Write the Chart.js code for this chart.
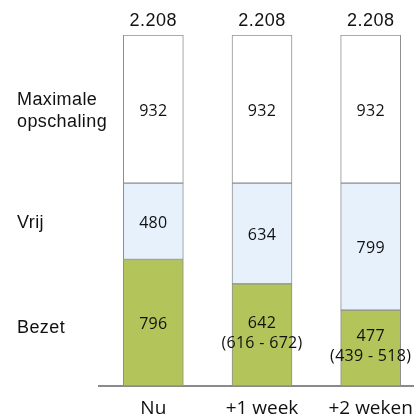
<!DOCTYPE html>
<html>
<head>
<meta charset="utf-8">
<script src="https://cdn.jsdelivr.net/npm/chart.js@4"></script>
<style>
  body { margin: 0; background: #fff; overflow: hidden; }
  #wrap { width: 414px; height: 419px; overflow: hidden; }
</style>
</head>
<body>
<div id="wrap"><canvas id="chart" width="425" height="419"></canvas></div>
<script>
// categories and values (bottom to top of the stack)
const categories = ['Nu', '+1 week', '+2 weken'];
const bezet = [796, 642, 477];
const vrij = [480, 634, 799];
const opschaling = [932, 932, 932];
// range for the predicted occupied beds
const bezetLow = [null, 616, 439];
const bezetHigh = [null, 672, 518];
const seriesLabels = ['Bezet', 'Vrij', 'Maximale\nopschaling'];

const totals = categories.map((c, i) => bezet[i] + vrij[i] + opschaling[i]);

function fmt(n) {
    // dutch thousands separator
    return String(n).replace(/\B(?=(\d{3})+(?!\d))/g, '.');
}

const labelPlugin = {
    id: 'labels',
    afterDatasetsDraw(chart) {
        const ctx = chart.ctx;
        ctx.save();
        ctx.fillStyle = '#111';
        ctx.textBaseline = 'middle';
        chart.data.datasets.forEach((ds, d) => {
            const meta = chart.getDatasetMeta(d);
            meta.data.forEach((bar, i) => {
                const mid = (bar.y + bar.base) / 2;
                ctx.font = '16px "Open Sans"';
                ctx.textAlign = 'center';
                ctx.letterSpacing = '0.3px';
                if (d === 0 && bezetLow[i] != null) {
                    ctx.fillText(String(ds.data[i]), bar.x, mid - 12);
                    ctx.fillText('(' + bezetLow[i] + ' - ' + bezetHigh[i] + ')', bar.x, mid + 8);
                } else {
                    ctx.fillText(String(ds.data[i]), bar.x, mid + 2);
                }
                // series name on the left, next to the first bar
                if (i === 0) {
                    ctx.font = '18px "Liberation Sans"';
                    ctx.textAlign = 'left';
                    ctx.letterSpacing = '0.4px';
                    const lines = ds.label.split('\n');
                    const off = d === 0 ? 5 : 2;
                    lines.forEach((line, k) => {
                        ctx.fillText(line, 17, mid + off + (k - (lines.length - 1) / 2) * 22);
                    });
                }
            });
        });
        // totals above the bars
        const top = chart.getDatasetMeta(chart.data.datasets.length - 1);
        ctx.font = '18px "Liberation Sans"';
        ctx.letterSpacing = '0.5px';
        ctx.textAlign = 'center';
        top.data.forEach((bar, i) => {
            ctx.fillText(fmt(totals[i]), bar.x, bar.y - 14);
        });
        ctx.restore();
    }
};

const ctx = document.getElementById('chart').getContext('2d');
const chart = new Chart(ctx, {
    type: 'bar',
    data: {
        labels: categories,
        datasets: [{
            label: seriesLabels[0],
            data: bezet,
            backgroundColor: '#b3c45a'
        }, {
            label: seriesLabels[1],
            data: vrij,
            backgroundColor: '#e6f1fb'
        }, {
            label: seriesLabels[2],
            data: opschaling,
            backgroundColor: '#ffffff'
        }]
    },
    options: {
        responsive: false,
        animation: false,
        devicePixelRatio: 1,
        datasets: {
            bar: {
                borderColor: '#8e8e8e',
                borderWidth: 1,
                borderSkipped: false,
                barThickness: 60
            }
        },
        layout: {
            padding: { left: 99, top: 35, right: 0, bottom: 0 }
        },
        plugins: {
            legend: { display: false },
            tooltip: { enabled: false }
        },
        scales: {
            x: {
                stacked: true,
                grid: { display: false, drawTicks: false },
                border: { display: true, color: '#8a8a8a', width: 2 },
                ticks: {
                    color: '#111',
                    font: { family: 'Open Sans', size: 19 },
                    padding: 11,
                    maxRotation: 0
                },
                afterFit: s => { s.height = 33; }
            },
            y: {
                stacked: true,
                display: false,
                min: 0,
                max: Math.max(...totals)
            }
        }
    },
    plugins: [labelPlugin]
});
</script>
</body>
</html>
